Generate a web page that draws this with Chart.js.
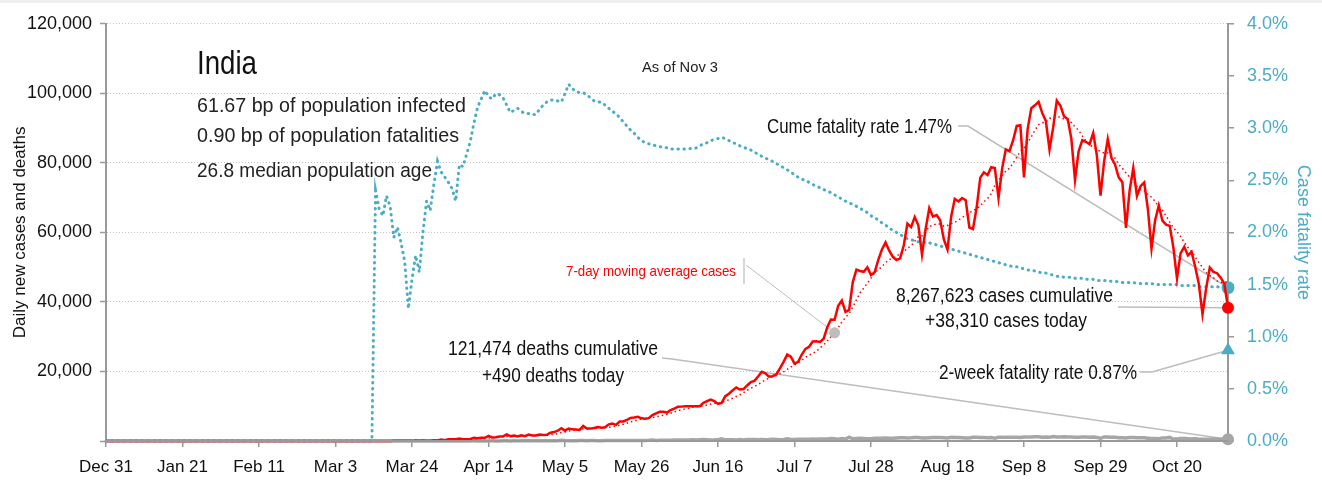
<!DOCTYPE html>
<html>
<head>
<meta charset="utf-8">
<script src="https://cdn.jsdelivr.net/npm/chart.js@4.4.1/dist/chart.umd.min.js"></script>
<style>
  html, body { margin: 0; padding: 0; background: #fff; }
  #wrap { position: relative; width: 1322px; height: 482px; }
  #strip { position: absolute; left: 0; top: 0; width: 1322px; height: 3px; background: #efefef; }
</style>
</head>
<body>
<div id="wrap"><div id="strip"></div><canvas id="chart" width="1322" height="482"></canvas></div>
<script>
// x axis tick labels, one every 21 days starting Dec 31
const tickLabels = ["Dec 31", "Jan 21", "Feb 11", "Mar 3", "Mar 24", "Apr 14", "May 5",
  "May 26", "Jun 16", "Jul 7", "Jul 28", "Aug 18", "Sep 8", "Sep 29", "Oct 20"];

// daily new cases (Dec 31 .. Nov 3)
const casesDec = [0];
const casesJan = [0,0,0,0,0,0,0,0,0,0, 0,0,0,0,0,0,0,0,0,0, 0,0,0,0,0,0,0,0,0,1, 0];
const casesFeb = [0,1,1,0,0,0,0,0,0,0, 0,0,0,0,0,0,0,0,0,0, 0,0,0,0,0,0,0,0,0];
const casesMar = [0,2,1,22,2,1,3,5,4,4, 14,11,9,20,11,6,23,14,38,50, 86,66,103,37,121,70,160,100,82,227, 146];
const casesApr = [437,235,478,525,505,704,508,485,591,896, 768,918,905,1463,1035,1091,1296,1352,1893,1383,
  1540,1290,1667,1408,1835,1607,1561,1873,1738,1801];
const casesMay = [2396,2564,2952,3656,2971,3602,3344,3339,3175,4311, 3592,3562,3726,3991,3808,3970,4794,5049,4630,5611,
  5609,6088,6654,6767,6977,6535,6387,6566,7468,7964, 8380];
const casesJun = [8392,8171,8909,9304,9851,9887,9971,9983,9987,9985, 9996,10956,11458,11929,11502,10667,10974,12881,13586,14516,
  15413,14821,14933,15968,16922,17296,18552,19906,19459,18522];
const casesJul = [18653,19148,20903,22771,24850,24248,22252,22752,24879,26506, 27114,28637,28701,28498,29429,32695,34956,34884,38902,40425,
  37148,37724,45720,49310,48916,48661,49931,47704,48513,52123, 55078];
const casesAug = [57118,54735,52972,52050,52509,56282,62538,61537,64399,62064, 53601,60963,66999,64553,65002,63490,57981,55079,64531,69652,
  68898,69878,69239,61408,60975,67151,75760,77266,76472,78761, 78512];
const casesSep = [69921,78357,83883,83341,86432,90632,90802,75809,89706,95735, 96551,97570,94372,92071,83809,90123,97894,96424,93337,92605,
  86961,75083,83347,86508,86052,85362,88600,82170,70589,80472];
const casesOct = [86821,81484,79476,75829,74442,61267,72049,78524,70496,73272, 74383,66732,55342,63509,67708,63371,62212,61871,55722,46790,
  54044,55839,53370,54366,50129,45148,36470,43893,49881,48648, 48268];
const casesNov = [46963,45231,38310];

// daily new deaths
const deathsDec = [0];
const deathsJan = [0,0,0,0,0,0,0,0,0,0, 0,0,0,0,0,0,0,0,0,0, 0,0,0,0,0,0,0,0,0,0, 0];
const deathsFeb = [0,0,0,0,0,0,0,0,0,0, 0,0,0,0,0,0,0,0,0,0, 0,0,0,0,0,0,0,0,0];
const deathsMar = [0,0,0,0,0,0,0,0,0,0, 0,0,1,1,0,0,1,0,1,0, 1,2,3,1,1,3,4,3,2,8, 15];
const deathsApr = [3,20,12,22,13,32,35,35,33,40, 31,35,31,29,38,26,23,43,36,31, 50,36,37,57,49,56,61,60,73,67];
const deathsMay = [77,72,83,195,126,89,104,95,128,111, 87,122,134,103,100,120,157,134,140,132,
  148,142,137,146,154,146,170,194,265,175, 193];
const deathsJun = [230,204,217,260,273,294,286,266,331,279, 357,396,386,311,325,380,600,334,336,375,
  306,445,312,465,418,407,384,410,380,418];
const deathsJul = [507,434,379,442,613,425,467,482,487,475, 519,551,500,553,582,606,687,671,543,681,
  587,1129,648,740,757,705,636,654,768,775, 779];
const deathsAug = [852,771,803,857,904,919,898,933,1007,1007, 871,834,942,1007,996,1007,944,876,1092,977,
  983,912,836,848,1059,1059,1023,1021,948,971, 819];
const deathsSep = [1045,1043,1096,1066,1089,1065,1016,1133,1115,1172, 1209,1201,1114,1136,1054,1290,1132,1174,1247,1133,
  1130,1053,1085,1129,1141,1089,1124,1039,776,1179];
const deathsOct = [1181,1095,1069,940,903,884,971,971,963,926, 918,816,706,730,680,895,837,1033,579,587,
  717,702,650,578,650,480,488,517,517,551, 470];
const deathsNov = [496,514,490];

// cumulative case fatality rate in %, zero until the first death, values from Mar 14
const cfrDaysBeforeFirst = 74;
const cfrFromMar14 = [
  2.40,2.22,2.16,2.35,2.25,1.95,2.05,1.90,1.72,1.27,
  1.55,1.78,1.62,2.00,2.30,2.21,2.46,2.68,2.58,2.53,
  2.48,2.42,2.30,2.65,2.63,2.75,2.87,3.05,3.20,3.28,
  3.36,3.30,3.28,3.33,3.32,3.29,3.22,3.15,3.17,3.19,
  3.16,3.14,3.14,3.13,3.13,3.18,3.22,3.25,3.27,3.27,
  3.26,3.25,3.33,3.42,3.38,3.35,3.34,3.34,3.32,3.29,
  3.26,3.25,3.25,3.22,3.19,3.16,3.14,3.10,3.06,3.02,
  2.98,2.95,2.91,2.88,2.86,2.85,2.84,2.83,2.82,2.82,
  2.81,2.80,2.80,2.80,2.80,2.80,2.80,2.81,2.81,2.83,
  2.85,2.86,2.88,2.89,2.90,2.91,2.90,2.88,2.86,2.85,
  2.83,2.82,2.80,2.79,2.77,2.75,2.73,2.71,2.70,2.68,
  2.66,2.64,2.62,2.60,2.58,2.55,2.53,2.51,2.50,2.48,
  2.46,2.44,2.43,2.41,2.40,2.38,2.36,2.34,2.32,2.30,
  2.28,2.27,2.25,2.23,2.21,2.19,2.16,2.14,2.12,2.09,
  2.07,2.04,2.02,2.00,1.98,1.96,1.94,1.93,1.92,1.91,
  1.91,1.90,1.90,1.89,1.88,1.87,1.86,1.85,1.84,1.83,
  1.82,1.81,1.80,1.79,1.78,1.77,1.76,1.75,1.74,1.73,
  1.72,1.71,1.70,1.69,1.68,1.67,1.67,1.66,1.65,1.64,
  1.64,1.63,1.62,1.61,1.61,1.60,1.59,1.58,1.58,1.57,
  1.57,1.57,1.56,1.56,1.56,1.55,1.55,1.55,1.54,1.54,
  1.54,1.54,1.53,1.53,1.53,1.52,1.52,1.52,1.52,1.51,
  1.51,1.51,1.51,1.51,1.50,1.50,1.50,1.50,1.50,1.50,
  1.50,1.49,1.49,1.49,1.49,1.49,1.48,1.48,1.48,1.48,
  1.48,1.48,1.47,1.47,1.47
];
const twoWeekFatalityRate = 0.87;

const cases = [].concat(casesDec, casesJan, casesFeb, casesMar, casesApr, casesMay,
  casesJun, casesJul, casesAug, casesSep, casesOct, casesNov);
const deaths = [].concat(deathsDec, deathsJan, deathsFeb, deathsMar, deathsApr, deathsMay,
  deathsJun, deathsJul, deathsAug, deathsSep, deathsOct, deathsNov);
const cfr = new Array(cfrDaysBeforeFirst).fill(0).concat(cfrFromMar14);

const MONTHS = ["Jan","Feb","Mar","Apr","May","Jun","Jul","Aug","Sep","Oct","Nov","Dec"];
const dayLabels = cases.map((_, i) => {
  const d = new Date(2019, 11, 31 + i);
  return MONTHS[d.getMonth()] + " " + d.getDate();
});

// 7-day moving average of the daily cases
const avg7 = cases.map((_, i) => {
  const win = cases.slice(Math.max(0, i - 6), i + 1);
  return win.reduce((s, v) => s + v, 0) / win.length;
});

const last = cases.length - 1;
const avgMarkerIndex = 200;
const twoWeek = cases.map((_, i) => (i === last ? twoWeekFatalityRate : null));

const BLUE = "#4bacc6";
const RED = "#ff0000";
const GREY = "#a6a6a6";
const LEADER = "#bdbdbd";
const FONT = '"Liberation Sans", Arial, sans-serif';

function drawText(ctx, text, x, y, size, color, align, width) {
  ctx.save();
  ctx.font = size + "px " + FONT;
  ctx.fillStyle = color;
  ctx.textBaseline = "alphabetic";
  ctx.textAlign = "left";
  const w = ctx.measureText(text).width;
  const sx = width ? width / w : 1;
  let x0 = x;
  if (align === "center") x0 = x - (w * sx) / 2;
  else if (align === "right") x0 = x - w * sx;
  ctx.translate(x0, y);
  ctx.scale(sx, 1);
  ctx.fillText(text, 0, 0);
  ctx.restore();
}

function polyline(ctx, pts, color, width) {
  ctx.save();
  ctx.strokeStyle = color;
  ctx.lineWidth = width;
  ctx.beginPath();
  pts.forEach((p, i) => (i ? ctx.lineTo(p[0], p[1]) : ctx.moveTo(p[0], p[1])));
  ctx.stroke();
  ctx.restore();
}

const annotations = {
  id: "annotations",
  beforeDatasetsDraw(chart) {
    const { ctx, scales } = chart;
    const x = scales.x, y = scales.y, y1 = scales.y1;
    const xl = x.getPixelForValue(last);
    // leader lines to the end markers
    polyline(ctx, [[958, 126], [968, 126], [xl, y1.getPixelForValue(cfr[last])]], LEADER, 1.6);
    polyline(ctx, [[1118, 307], [xl, y.getPixelForValue(cases[last])]], LEADER, 1.6);
    polyline(ctx, [[1140, 372], [1152, 372], [xl, y1.getPixelForValue(twoWeekFatalityRate)]], LEADER, 1.6);
    polyline(ctx, [[662, 358], [672, 359], [xl, y.getPixelForValue(deaths[last])]], LEADER, 1.6);
    // 7-day average callout
    polyline(ctx, [[744, 258], [744, 284]], LEADER, 1.2);
    polyline(ctx, [[746, 265], [x.getPixelForValue(avgMarkerIndex), y.getPixelForValue(avg7[avgMarkerIndex])]], LEADER, 1);
  },
  afterDraw(chart) {
    const ctx = chart.ctx;
    drawText(ctx, "India", 197, 74, 33, "#111", "left", 60);
    drawText(ctx, "61.67 bp of population infected", 197, 111.5, 20.5, "#222", "left", 269);
    drawText(ctx, "0.90 bp of population fatalities", 197, 141.5, 20.5, "#222", "left", 262);
    drawText(ctx, "26.8 median population age", 197, 176.5, 20.5, "#222", "left", 235);
    drawText(ctx, "As of Nov 3", 680, 72, 14, "#222", "center", 76);
    drawText(ctx, "Cume fatality rate 1.47%", 952, 133, 20.5, "#111", "right", 185);
    drawText(ctx, "7-day moving average cases", 566, 276, 15, RED, "left", 170);
    drawText(ctx, "8,267,623 cases cumulative", 896, 302, 20.5, "#111", "left", 217);
    drawText(ctx, "+38,310 cases today", 925, 327, 20.5, "#111", "left", 162);
    drawText(ctx, "2-week fatality rate 0.87%", 939, 379, 20.5, "#111", "left", 198);
    drawText(ctx, "121,474 deaths cumulative", 448, 355, 20.5, "#111", "left", 210);
    drawText(ctx, "+490 deaths today", 482, 382, 20.5, "#111", "left", 142);
  }
};

const onlyAt = (idx, r) => (c) => (c.dataIndex === idx ? r : 0);

new Chart(document.getElementById("chart"), {
  type: "line",
  data: {
    labels: dayLabels,
    datasets: [
      {
        label: "Daily new cases",
        data: cases,
        yAxisID: "y",
        borderColor: RED,
        backgroundColor: RED,
        borderWidth: 2.5,
        pointRadius: onlyAt(last, 6),
        pointBorderWidth: 0,
        clip: false
      },
      {
        label: "7-day moving average cases",
        data: avg7,
        yAxisID: "y",
        borderColor: RED,
        borderWidth: 1.5,
        borderDash: [1.5, 3],
        pointRadius: onlyAt(avgMarkerIndex, 5.5),
        pointBackgroundColor: "#bdbdbd",
        pointBorderWidth: 0,
        clip: false
      },
      {
        label: "Case fatality rate",
        data: cfr,
        yAxisID: "y1",
        borderColor: BLUE,
        backgroundColor: BLUE,
        borderWidth: 3,
        borderDash: [0.5, 5.5],
        borderCapStyle: "round",
        pointRadius: onlyAt(last, 6.5),
        pointBorderWidth: 0,
        clip: false
      },
      {
        label: "Daily new deaths",
        data: deaths,
        yAxisID: "y",
        borderColor: GREY,
        backgroundColor: GREY,
        borderWidth: 3.5,
        pointRadius: onlyAt(last, 6),
        pointBorderWidth: 0,
        clip: false
      },
      {
        label: "2-week fatality rate",
        data: twoWeek,
        yAxisID: "y1",
        showLine: false,
        pointStyle: "triangle",
        pointRadius: onlyAt(last, 8),
        backgroundColor: BLUE,
        borderColor: BLUE,
        pointBorderWidth: 0,
        clip: false
      }
    ]
  },
  options: {
    responsive: false,
    animation: false,
    events: [],
    layout: { padding: { top: 17, left: 0, right: 0, bottom: 0 } },
    plugins: { legend: { display: false }, tooltip: { enabled: false } },
    scales: {
      x: {
        type: "category",
        offset: false,
        afterFit: (s) => { s.height = 41; },
        border: { color: "#999", width: 2, z: 1 },
        grid: {
          drawOnChartArea: false,
          tickLength: 6,
          lineWidth: 1.5,
          color: (c) => (c.index % 21 === 0 ? "#999" : "rgba(0,0,0,0)")
        },
        ticks: {
          autoSkip: false,
          maxRotation: 0,
          padding: 10,
          color: "#111",
          font: { family: FONT, size: 17 },
          callback: (v, i) => (i % 21 === 0 ? tickLabels[i / 21] : "")
        }
      },
      y: {
        position: "left",
        min: 0,
        max: 120000,
        afterFit: (s) => { s.width = 106; },
        border: { color: "#999", width: 2, dash: [1, 2] },
        grid: { color: "#c4c4c4", lineWidth: 1, tickLength: 6, tickColor: "#999", tickWidth: 1.5 },
        ticks: {
          stepSize: 20000,
          padding: 8,
          color: "#111",
          font: { family: FONT, size: 18 },
          callback: (v) => (v === 0 ? "" : v.toLocaleString("en-US"))
        },
        title: {
          display: true,
          text: "Daily new cases and deaths",
          color: "#111",
          font: { family: FONT, size: 17 },
          padding: { top: 10, bottom: 0 }
        }
      },
      y1: {
        position: "right",
        min: 0,
        max: 4,
        afterFit: (s) => { s.width = 94; },
        border: { color: "#999", width: 2 },
        grid: { drawOnChartArea: false, tickLength: 6, color: "#999", lineWidth: 1.5 },
        ticks: {
          stepSize: 0.5,
          padding: 13,
          color: BLUE,
          font: { family: FONT, size: 18 },
          callback: (v) => v.toFixed(1) + "%"
        },
        title: {
          display: true,
          text: "Case fatality rate",
          color: BLUE,
          font: { family: FONT, size: 18 },
          padding: { top: 8, bottom: 0 }
        }
      }
    }
  },
  plugins: [annotations]
});
</script>
</body>
</html>
